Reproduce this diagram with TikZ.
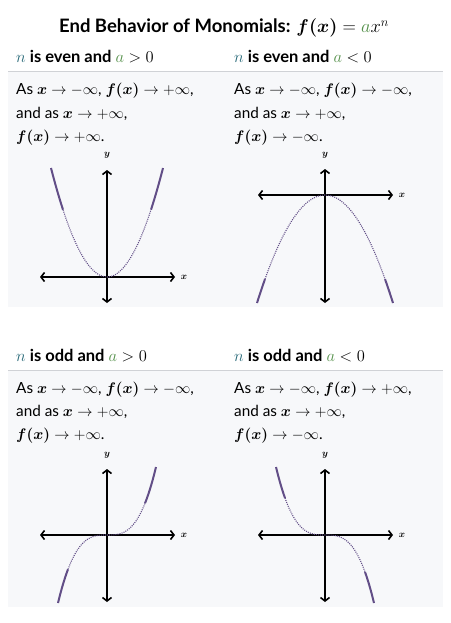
\RequirePackage{fix-cm}
\documentclass[tikz,border=0pt]{standalone}
\usepackage{amsmath}
\usepackage{fontspec}
\setmainfont{Lato}
\usetikzlibrary{arrows.meta}
\definecolor{panelbg}{RGB}{247,248,250}
\definecolor{rulegray}{RGB}{208,210,214}
\definecolor{curvepurple}{RGB}{98,78,135}
\definecolor{nteal}{RGB}{40,105,120}
\definecolor{agreen}{RGB}{85,145,75}
\begin{document}
\begin{tikzpicture}[x=1pt,y=-1pt,
  titletext/.style={font=\fontsize{18.5}{21}\selectfont\bfseries, anchor=base, inner sep=0},
  headtext/.style={font=\fontsize{16.5}{19}\selectfont\bfseries, anchor=base west, inner sep=0},
  bodytext/.style={font=\fontsize{15.3}{18}\selectfont, anchor=base west, inner sep=0},
  axislabel/.style={font=\fontsize{9.5}{10}\selectfont, inner sep=0},
  axisline/.style={line width=1.6pt, black, {Straight Barb[length=3.5pt,width=9pt]}-{Straight Barb[length=3.5pt,width=9pt]}},
  solidcurve/.style={curvepurple, line width=2pt},
  dotcurve/.style={curvepurple, line width=1.1pt, dash pattern=on 1pt off 1.1pt},
  panel/.style={fill=panelbg, draw=none},
  headrule/.style={rulegray, line width=1.3pt}]
\useasboundingbox (0,0) rectangle (450,623);
\fill[white] (0,0) rectangle (450,623);

% panels
\fill[panel] (8,72) rectangle (443,307);
\fill[panel] (8,371) rectangle (443,607);
\coordinate (r1a) at (8,71.3); \coordinate (r1b) at (443,71.3);
\coordinate (r2a) at (8,370.5); \coordinate (r2b) at (443,370.5);
\draw[headrule] (r1a) -- (r1b);
\draw[headrule] (r2a) -- (r2b);

% title
\node[titletext] (title) at (224,33) {End Behavior of Monomials: $\boldsymbol{f(x)} = \textcolor{agreen}{a}x^{n}$};

% headers
\node[headtext] (h1) at (16,62.3) {$\textcolor{nteal}{n}$ is even and $\textcolor{agreen}{a} > 0$};
\node[headtext] (h2) at (234,62.3) {$\textcolor{nteal}{n}$ is even and $\textcolor{agreen}{a} < 0$};
\node[headtext] (h3) at (16,361.3) {$\textcolor{nteal}{n}$ is odd and $\textcolor{agreen}{a} > 0$};
\node[headtext] (h4) at (234,361.3) {$\textcolor{nteal}{n}$ is odd and $\textcolor{agreen}{a} < 0$};

% body texts
\node[bodytext] (t1a) at (16,95) {As $\boldsymbol{x} \to -\infty$, $\boldsymbol{f(x)} \to +\infty$,};
\node[bodytext] (t1b) at (16,118) {and as $\boldsymbol{x} \to +\infty$,};
\node[bodytext] (t1c) at (16,141) {$\boldsymbol{f(x)} \to +\infty$.};
\node[bodytext] (t2a) at (234,95) {As $\boldsymbol{x} \to -\infty$, $\boldsymbol{f(x)} \to -\infty$,};
\node[bodytext] (t2b) at (234,118) {and as $\boldsymbol{x} \to +\infty$,};
\node[bodytext] (t2c) at (234,141) {$\boldsymbol{f(x)} \to -\infty$.};
\node[bodytext] (t3a) at (16,393) {As $\boldsymbol{x} \to -\infty$, $\boldsymbol{f(x)} \to -\infty$,};
\node[bodytext] (t3b) at (16,416) {and as $\boldsymbol{x} \to +\infty$,};
\node[bodytext] (t3c) at (16,439.5) {$\boldsymbol{f(x)} \to +\infty$.};
\node[bodytext] (t4a) at (234,393) {As $\boldsymbol{x} \to -\infty$, $\boldsymbol{f(x)} \to +\infty$,};
\node[bodytext] (t4b) at (234,416) {and as $\boldsymbol{x} \to +\infty$,};
\node[bodytext] (t4c) at (234,439.5) {$\boldsymbol{f(x)} \to -\infty$.};

% ---------- graph 1: even, a>0
\coordinate (g1l) at (40,277); \coordinate (g1r) at (175,277);
\coordinate (g1t) at (107,170); \coordinate (g1b) at (107,303);
\draw[axisline] (g1l) -- (g1r);
\draw[axisline] (g1b) -- (g1t);
\node[axislabel] (g1y) at (107,155) {$\boldsymbol{y}$};
\node[axislabel] (g1x) at (184,277) {$\boldsymbol{x}$};
\draw[solidcurve] plot[domain=51:63, samples=8] (\x, {277-109*((\x-107)/56)*((\x-107)/56)});
\draw[solidcurve] plot[domain=151:163, samples=8] (\x, {277-109*((\x-107)/56)*((\x-107)/56)});
\draw[dotcurve] plot[domain=63:151, samples=50, smooth] (\x, {277-109*((\x-107)/56)*((\x-107)/56)});

% ---------- graph 2: even, a<0
\coordinate (g2l) at (258,195); \coordinate (g2r) at (393,195);
\coordinate (g2t) at (325,169); \coordinate (g2b) at (325,303);
\draw[axisline] (g2l) -- (g2r);
\draw[axisline] (g2b) -- (g2t);
\node[axislabel] (g2y) at (325,155) {$\boldsymbol{y}$};
\node[axislabel] (g2x) at (402,195) {$\boldsymbol{x}$};
\draw[solidcurve] plot[domain=257:265, samples=8] (\x, {195+108*((\x-325)/68)*((\x-325)/68)});
\draw[solidcurve] plot[domain=385:393, samples=8] (\x, {195+108*((\x-325)/68)*((\x-325)/68)});
\draw[dotcurve] plot[domain=265:385, samples=60, smooth] (\x, {195+108*((\x-325)/68)*((\x-325)/68)});

% ---------- graph 3: odd, a>0
\coordinate (g3l) at (40,535); \coordinate (g3r) at (175,535);
\coordinate (g3t) at (107,469); \coordinate (g3b) at (107,602);
\draw[axisline] (g3l) -- (g3r);
\draw[axisline] (g3b) -- (g3t);
\node[axislabel] (g3y) at (107,455) {$\boldsymbol{y}$};
\node[axislabel] (g3x) at (184,535) {$\boldsymbol{x}$};
\draw[solidcurve] plot[domain=58:68, samples=8] (\x, {535-68*((\x-107)/49)*((\x-107)/49)*((\x-107)/49)});
\draw[solidcurve] plot[domain=145:156, samples=8] (\x, {535-68*((\x-107)/49)*((\x-107)/49)*((\x-107)/49)});
\draw[dotcurve] plot[domain=68:145, samples=60, smooth] (\x, {535-68*((\x-107)/49)*((\x-107)/49)*((\x-107)/49)});

% ---------- graph 4: odd, a<0
\coordinate (g4l) at (258,535); \coordinate (g4r) at (393,535);
\coordinate (g4t) at (325,469); \coordinate (g4b) at (325,602);
\draw[axisline] (g4l) -- (g4r);
\draw[axisline] (g4b) -- (g4t);
\node[axislabel] (g4y) at (325,455) {$\boldsymbol{y}$};
\node[axislabel] (g4x) at (402,535) {$\boldsymbol{x}$};
\draw[solidcurve] plot[domain=276:285, samples=8] (\x, {535+68*((\x-325)/49)*((\x-325)/49)*((\x-325)/49)});
\draw[solidcurve] plot[domain=365:374, samples=8] (\x, {535+68*((\x-325)/49)*((\x-325)/49)*((\x-325)/49)});
\draw[dotcurve] plot[domain=285:365, samples=60, smooth] (\x, {535+68*((\x-325)/49)*((\x-325)/49)*((\x-325)/49)});
\end{tikzpicture}
\end{document}
